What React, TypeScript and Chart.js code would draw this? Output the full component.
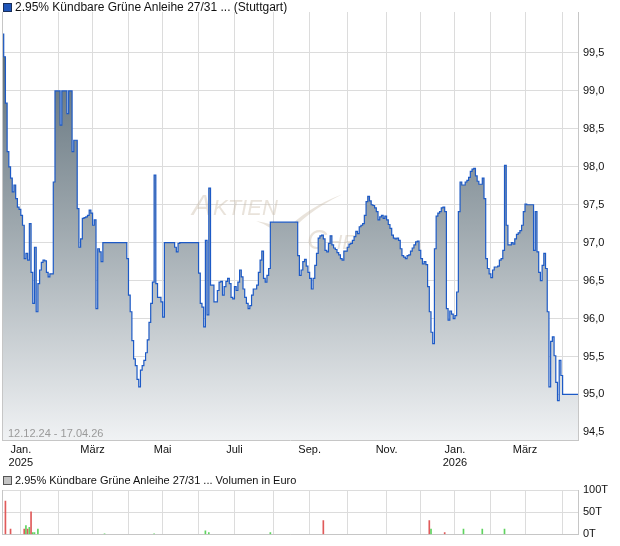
import React, { useEffect, useRef } from 'react';
import { Chart, registerables } from 'chart.js';
Chart.register(...registerables);

// Daily closing prices (trading-day index 0 = 12.12.24, last = 17.04.26)
const priceValues: number[] = [
  99.75, 99.45, 98.84, 98.2, 98.0, 97.85, 97.67, 97.76, 97.58, 97.47,
  97.44, 97.36, 97.23, 96.79, 96.86, 96.77, 97.25, 96.61, 96.2, 96.94,
  96.09, 96.46, 96.64, 96.74, 96.77, 96.76, 96.61, 96.55, 96.59, 96.59,
  97.8, 99.0, 99.0, 99.0, 98.55, 99.0, 99.0, 99.0, 98.7, 99.0,
  99.0, 98.2, 98.35, 98.35, 97.45, 96.94, 97.05, 97.32, 97.33, 97.34,
  97.36, 97.43, 97.39, 97.23, 97.3, 96.13, 96.92, 96.88, 96.75, 97.0,
  97.0, 97.0, 97.0, 97.0, 97.0, 97.0, 97.0, 97.0, 97.0, 97.0,
  97.0, 97.0, 97.0, 96.79, 96.31, 96.09, 95.71, 95.47, 95.38, 95.2,
  95.1, 95.32, 95.38, 95.45, 95.55, 95.72, 95.95, 96.2, 96.48, 97.89,
  96.46, 96.28, 96.28, 96.22, 96.02, 97.0, 97.0, 97.0, 97.0, 97.0,
  97.0, 96.94, 96.88, 96.99, 97.0, 97.0, 97.0, 97.0, 97.0, 97.0,
  97.0, 97.0, 97.0, 97.0, 97.0, 96.6, 96.2, 96.15, 95.89, 97.03,
  96.05, 97.72, 96.44, 96.44, 96.22, 96.22, 96.37, 96.48, 96.49, 96.31,
  96.42, 96.49, 96.53, 96.46, 96.28, 96.26, 96.42, 96.37, 96.48, 96.64,
  96.55, 96.39, 96.28, 96.2, 96.13, 96.17, 96.31, 96.39, 96.39, 96.44,
  96.61, 96.77, 96.89, 96.53, 96.48, 96.57, 96.66, 97.27, 97.27, 97.27,
  97.27, 97.27, 97.27, 97.27, 97.27, 97.27, 97.27, 97.27, 97.27, 97.27,
  97.27, 97.27, 97.27, 96.83, 96.57, 96.64, 96.75, 96.78, 96.69, 96.61,
  96.53, 96.39, 96.53, 96.7, 96.86, 97.06, 97.09, 97.1, 97.05, 96.9,
  96.88, 96.99, 97.09, 96.97, 96.93, 96.91, 96.87, 96.84, 96.79, 96.77,
  96.89, 96.89, 96.94, 96.98, 96.99, 97.03, 97.08, 97.15, 97.12, 97.21,
  97.23, 97.25, 97.36, 97.54, 97.61, 97.55, 97.5, 97.49, 97.46, 97.41,
  97.3, 97.34, 97.36, 97.32, 97.35, 97.3, 97.24, 97.19, 97.1, 97.06,
  97.05, 97.06, 97.03, 96.92, 96.83, 96.81, 96.79, 96.83, 96.84, 96.89,
  96.93, 96.97, 97.01, 97.02, 96.9, 96.79, 96.72, 96.75, 96.71, 96.42,
  96.09, 95.82, 95.67, 96.92, 97.35, 97.39, 97.41, 97.46, 97.47, 97.41,
  96.13, 95.98, 96.1, 96.06, 96.0, 96.04, 96.35, 97.41, 97.8, 97.76,
  97.76, 97.8, 97.82, 97.86, 97.94, 97.97, 97.98, 97.88, 97.81, 97.77,
  97.77, 97.85, 97.58, 96.79, 96.66, 96.59, 96.54, 96.64, 96.68, 96.68,
  96.69, 96.77, 96.79, 96.9, 98.02, 97.23, 96.97, 96.97, 97.0, 96.98,
  97.05, 97.11, 97.13, 97.16, 97.23, 97.41, 97.51, 97.5, 97.5, 97.5,
  97.5, 96.9, 97.41, 96.88, 96.61, 96.5, 96.7, 96.86, 96.66, 96.09,
  95.1, 95.7, 95.76, 95.51, 95.16, 94.92, 95.45, 95.25, 95.0, 95.0,
  95.0, 95.0, 95.0, 95.0, 95.0, 95.0, 95.0, 95.0,
];

// Month starts as trading-day index
const monthTickIndex = [11, 33, 53, 74, 94, 115, 136, 159, 180, 202, 225, 245, 265, 286, 306, 328];
const monthTickLabels: (string | string[])[] = [
  ['Jan.', '2025'], '', 'März', '', 'Mai', '', 'Juli', '', 'Sep.', '', 'Nov.', '', ['Jan.', '2026'], '', 'März', '',
];
const priceTicks = [94.5, 95.0, 95.5, 96.0, 96.5, 97.0, 97.5, 98.0, 98.5, 99.0, 99.5];

// Volume (thousand euro)
const volumeIndex = [2, 5, 13, 14, 15, 16, 17, 18, 19, 21, 60, 89, 119, 121, 157, 188, 250, 251, 259, 270, 281, 294];
const volumeValues = [75, 12, 12, 20, 12, 16, 51, 4, 4, 12, 1.5, 1.5, 8, 4, 4, 31, 31, 12, 4, 12, 12, 12];
const volumeUp = [false, false, false, true, false, true, false, true, true, true, true, true, true, true, true, false, false, true, false, true, true, true];
const volumeTicks = [0, 50, 100];
const volumeTickLabels = ['0T', '50T', '100T'];

const FONT = '"Liberation Sans", Arial, sans-serif';
const GRID = '#dcdcdc';
const BORDER = '#c6c6c6';
const X_MAX = 337;

const leftBorder = {
  id: 'leftBorder',
  afterDraw(chart: any) {
    const { ctx, chartArea } = chart;
    ctx.save();
    ctx.strokeStyle = BORDER;
    ctx.lineWidth = 1;
    ctx.beginPath();
    const x = Math.round(chartArea.left) + 0.5;
    ctx.moveTo(x, chartArea.top);
    ctx.lineTo(x, chartArea.bottom);
    ctx.stroke();
    ctx.restore();
  },
};

const watermark = {
  id: 'watermark',
  beforeDatasetsDraw(chart: any) {
    const { ctx } = chart;
    ctx.save();
    ctx.fillStyle = 'rgba(200,185,165,0.4)';
    ctx.font = `italic 30px ${FONT}`;
    ctx.fillText('A', 192, 215);
    ctx.font = `italic 22px ${FONT}`;
    ctx.fillText('KTIEN', 213, 215);
    ctx.font = `italic 28px ${FONT}`;
    ctx.fillText('C', 307, 249);
    ctx.font = `italic 21px ${FONT}`;
    ctx.fillText('HECK', 327, 249);
    ctx.beginPath();
    ctx.moveTo(256, 221);
    ctx.quadraticCurveTo(272, 226, 283, 240);
    ctx.quadraticCurveTo(305, 212, 343, 194);
    ctx.quadraticCurveTo(306, 208, 285, 231);
    ctx.quadraticCurveTo(272, 223, 256, 221);
    ctx.closePath();
    ctx.fill();
    ctx.restore();
  },
};

export default function App() {
  const mainRef = useRef<HTMLCanvasElement>(null);
  const volRef = useRef<HTMLCanvasElement>(null);

  useEffect(() => {
    const main = new Chart(mainRef.current!, {
      type: 'line',
      data: {
        datasets: [
          {
            data: priceValues.map((v, i) => ({ x: i, y: v })),
            borderColor: '#1d5ac6',
            borderWidth: 1.2,
            pointRadius: 0,
            stepped: true,
            fill: 'start',
            backgroundColor: (c: any) => {
              const area = c.chart.chartArea;
              if (!area) return 'rgb(160,170,176)';
              const g = c.chart.ctx.createLinearGradient(0, area.top, 0, area.bottom);
              g.addColorStop(0, 'rgb(82,100,111)');
              g.addColorStop(0.5, 'rgb(158,168,174)');
              g.addColorStop(1, 'rgb(240,242,244)');
              return g;
            },
          },
        ],
      },
      options: {
        animation: false,
        responsive: false,
        maintainAspectRatio: false,
        layout: { padding: { left: 2, top: 12, right: 0, bottom: 0 } },
        plugins: { legend: { display: false }, tooltip: { enabled: false } },
        scales: {
          x: {
            type: 'linear',
            min: 0,
            max: X_MAX,
            grid: { color: GRID, drawTicks: false },
            border: { display: true, color: BORDER },
            afterBuildTicks: (s: any) => {
              s.ticks = monthTickIndex.map((v) => ({ value: v }));
            },
            afterFit: (s: any) => {
              s.height = 30;
            },
            ticks: {
              autoSkip: false,
              maxRotation: 0,
              padding: 3,
              color: '#111',
              font: { family: FONT, size: 11 },
              callback: (v: any) => {
                const k = monthTickIndex.indexOf(Number(v));
                return k >= 0 ? monthTickLabels[k] : '';
              },
            },
          },
          y: {
            position: 'right',
            min: 94.4,
            max: 100.04,
            grid: { color: GRID, drawTicks: false },
            border: { display: true, color: BORDER },
            afterBuildTicks: (s: any) => {
              s.ticks = priceTicks.map((v) => ({ value: v }));
            },
            afterFit: (s: any) => {
              s.width = 42;
            },
            ticks: {
              padding: 5,
              color: '#111',
              font: { family: FONT, size: 11 },
              callback: (v: any) => Number(v).toFixed(1).replace('.', ','),
            },
          },
        },
      } as any,
      plugins: [watermark, leftBorder],
    });

    const vol = new Chart(volRef.current!, {
      type: 'bar',
      data: {
        datasets: [
          {
            data: volumeIndex.map((x, i) => ({ x, y: volumeValues[i] })),
            backgroundColor: volumeUp.map((u) => (u ? '#5fd35f' : '#e05a5a')),
            barThickness: 1,
            borderWidth: 0,
          },
        ],
      },
      options: {
        animation: false,
        responsive: false,
        maintainAspectRatio: false,
        layout: { padding: { left: 2, top: 14, right: 0, bottom: 0 } },
        plugins: { legend: { display: false }, tooltip: { enabled: false } },
        scales: {
          x: {
            type: 'linear',
            min: 0,
            max: X_MAX,
            offset: false,
            grid: { color: GRID, drawTicks: false, offset: false },
            border: { display: true, color: BORDER },
            afterBuildTicks: (s: any) => {
              s.ticks = monthTickIndex.map((v) => ({ value: v }));
            },
            afterFit: (s: any) => {
              s.height = 10;
            },
            ticks: { display: false },
          },
          y: {
            position: 'right',
            min: 0,
            max: 100,
            grid: { color: GRID, drawTicks: false },
            border: { display: true, color: BORDER },
            afterBuildTicks: (s: any) => {
              s.ticks = volumeTicks.map((v) => ({ value: v }));
            },
            afterFit: (s: any) => {
              s.width = 42;
            },
            ticks: {
              padding: 5,
              color: '#111',
              font: { family: FONT, size: 11 },
              callback: (v: any) => {
                const k = volumeTicks.indexOf(Number(v));
                return k >= 0 ? volumeTickLabels[k] : '';
              },
            },
          },
        },
      } as any,
      plugins: [leftBorder],
    });

    return () => {
      main.destroy();
      vol.destroy();
    };
  }, []);

  const text: React.CSSProperties = {
    position: 'absolute',
    fontFamily: FONT,
    fontSize: 11,
    lineHeight: '13px',
    color: '#111',
    whiteSpace: 'nowrap',
  };

  return (
    <div style={{ position: 'fixed', left: 0, top: 0, width: 620, height: 546, background: '#fff', overflow: 'hidden' }}>
      <canvas ref={mainRef} width={620} height={470} style={{ position: 'absolute', left: 0, top: 0, width: 620, height: 470 }} />
      <canvas ref={volRef} width={620} height={70} style={{ position: 'absolute', left: 0, top: 476, width: 620, height: 70 }} />
      <div style={{ position: 'absolute', left: 3, top: 3, width: 7, height: 7, background: '#1f55b8', border: '1px solid #1a2f5a' }} />
      <div style={{ ...text, left: 15, top: 0, fontSize: 12, lineHeight: '14px' }}>2.95% Kündbare Grüne Anleihe 27/31 ... (Stuttgart)</div>
      <div style={{ ...text, left: 8, top: 427, color: '#9a9a9a' }}>12.12.24 - 17.04.26</div>
      <div style={{ position: 'absolute', left: 3, top: 476, width: 7, height: 7, background: '#c4c4c4', border: '1px solid #555' }} />
      <div style={{ ...text, left: 15, top: 474 }}>2.95% Kündbare Grüne Anleihe 27/31 ... Volumen in Euro</div>
    </div>
  );
}
